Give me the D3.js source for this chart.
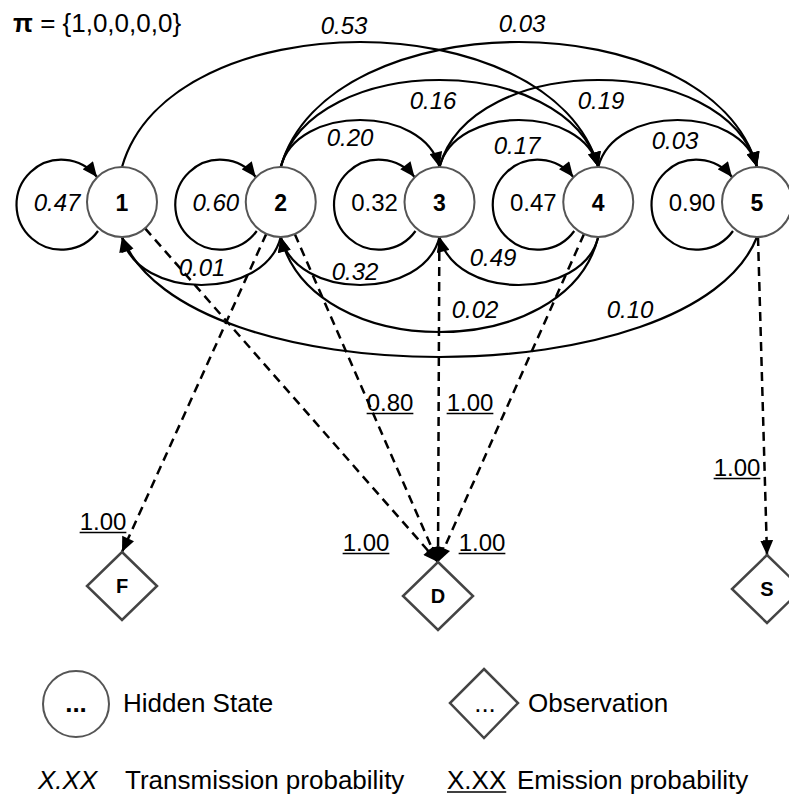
<!DOCTYPE html>
<html>
<head>
<meta charset="utf-8">
<title>HMM state diagram</title>
<script src="https://cdn.jsdelivr.net/npm/d3@7"></script>
<style>
  body { margin: 0; background: #fff; }
  svg { display: block; font-family: Arial, "Liberation Sans", sans-serif; }
  .lbl { font-size: 24px; fill: #000; }
  .it { font-style: italic; }
  .node { fill: #fff; stroke: #555; stroke-width: 2; }
  .obs { fill: #fff; stroke: #444; stroke-width: 2.5; }
  .arc { fill: none; stroke: #000; stroke-width: 2.2; }
  .emit { fill: none; stroke: #000; stroke-width: 2.5; stroke-dasharray: 9 6; }
  .legend { font-size: 26px; }
</style>
</head>
<body>
<script>
// data
var states = ['1', '2', '3', '4', '5'];
var initProb = [1, 0, 0, 0, 0];
var selfProb = ['0.47', '0.60', '0.32', '0.47', '0.90'];
var selfItalic = [true, true, false, false, false];
var transitions = [
  ['1', '4', '0.53'], ['2', '5', '0.03'], ['2', '4', '0.16'], ['3', '5', '0.19'],
  ['2', '3', '0.20'], ['3', '4', '0.17'], ['4', '5', '0.03'],
  ['2', '1', '0.01'], ['3', '2', '0.32'], ['4', '3', '0.49'], ['4', '2', '0.02'], ['5', '1', '0.10']
];
var observations = ['F', 'D', 'S'];
var emissions = [
  ['1', 'D', '1.00'], ['2', 'F', '1.00'], ['2', 'D', '0.80'],
  ['3', 'D', '1.00'], ['4', 'D', '1.00'], ['5', 'S', '1.00']
];

// layout
var width = 789, height = 796;
var R = 35, cy = 202;
var upPeak = {1: 120, 2: 80, 3: 42};
var lowTrough = {1: 285, 2: 332, 4: 357};
var transLabelPos = [[344, 25], [522, 23], [433, 100], [601, 100], [350, 137], [517, 145], [675, 140],
                     [202, 267], [355, 271], [493, 257], [475, 309], [630, 309]];
var obsPos = {F: [122, 586], D: [438, 596], S: [767, 589]};
var emitLabelPos = [[366, 542], [103, 521], [390, 402], [470, 402], [482, 542], [737, 467]];

var x = d3.scalePoint().domain(states).range([122, 757]);

var svg = d3.select('body').append('svg')
  .attr('width', width)
  .attr('height', height);

var defs = svg.append('defs');
defs.append('marker')
  .attr('id', 'arrow')
  .attr('viewBox', '0 0 16 14')
  .attr('refX', 16).attr('refY', 7)
  .attr('markerWidth', 16).attr('markerHeight', 13)
  .attr('markerUnits', 'userSpaceOnUse')
  .attr('orient', 'auto')
  .append('path')
  .attr('d', 'M0,0 L16,7 L0,14 Z')
  .attr('fill', '#000');

function curve(x1, x2, y0, yp) {
  var k = (yp - y0) / 0.75, f = 0.1 * (x2 - x1);
  return 'M' + x1 + ',' + y0 + ' C' + (x1 + f) + ',' + (y0 + k) + ' ' + (x2 - f) + ',' + (y0 + k) + ' ' + x2 + ',' + y0;
}

// transitions between states
svg.selectAll('path.trans')
  .data(transitions)
  .enter().append('path')
  .attr('class', 'arc trans')
  .attr('marker-end', 'url(#arrow)')
  .attr('d', function(d) {
    var a = x(d[0]), b = x(d[1]);
    var span = Math.abs(states.indexOf(d[1]) - states.indexOf(d[0]));
    if (b > a) return curve(a, b, cy - R, upPeak[span]);
    return curve(a, b, cy + R, lowTrough[span]);
  });

// self loops
svg.selectAll('path.loop')
  .data(states)
  .enter().append('path')
  .attr('class', 'arc loop')
  .attr('marker-end', 'url(#arrow)')
  .attr('d', function(d) {
    var cx = x(d);
    return 'M' + (cx - 24) + ',' + (cy + 29) + ' A45,45 0 1 1 ' + (cx - 25) + ',' + (cy - 25);
  });

// emissions
svg.selectAll('line.emit')
  .data(emissions)
  .enter().append('line')
  .attr('class', 'emit')
  .attr('marker-end', 'url(#arrow)')
  .each(function(d) {
    var sx = x(d[0]), p = obsPos[d[1]];
    var tx = p[0], ty = p[1] - 34;
    var dx = tx - sx, dy = ty - cy, l = Math.sqrt(dx * dx + dy * dy);
    d3.select(this)
      .attr('x1', sx + R * dx / l).attr('y1', cy + R * dy / l)
      .attr('x2', tx).attr('y2', ty);
  });

// state nodes
var nodes = svg.selectAll('g.state')
  .data(states)
  .enter().append('g')
  .attr('class', 'state')
  .attr('transform', function(d) { return 'translate(' + x(d) + ',' + cy + ')'; });
nodes.append('circle').attr('class', 'node').attr('r', R);
nodes.append('text')
  .attr('text-anchor', 'middle')
  .attr('y', 8.5)
  .attr('font-size', 23)
  .attr('font-weight', 'bold')
  .text(function(d) { return d; });

// self-loop labels
svg.selectAll('text.self')
  .data(states)
  .enter().append('text')
  .attr('class', function(d, i) { return 'lbl self' + (selfItalic[i] ? ' it' : ''); })
  .attr('text-anchor', 'middle')
  .attr('x', function(d) { return x(d) - 65; })
  .attr('y', cy + 9)
  .text(function(d, i) { return selfProb[i]; });

// transition labels
svg.selectAll('text.tl')
  .data(transitions)
  .enter().append('text')
  .attr('class', 'lbl it tl')
  .attr('text-anchor', 'middle')
  .attr('x', function(d, i) { return transLabelPos[i][0]; })
  .attr('y', function(d, i) { return transLabelPos[i][1] + 8.5; })
  .text(function(d) { return d[2]; });

// observation nodes
var obs = svg.selectAll('g.ob')
  .data(observations)
  .enter().append('g')
  .attr('class', 'ob')
  .attr('transform', function(d) { return 'translate(' + obsPos[d][0] + ',' + obsPos[d][1] + ')'; });
obs.append('path').attr('class', 'obs').attr('d', 'M0,-34 L35,0 L0,34 L-35,0 Z');
obs.append('text')
  .attr('text-anchor', 'middle')
  .attr('y', 7)
  .attr('font-size', 20)
  .attr('font-weight', 'bold')
  .text(function(d) { return d; });

function underline(sel) {
  sel.each(function() {
    var t = d3.select(this), w = this.getComputedTextLength();
    var tx = +t.attr('x'), ty = +t.attr('y');
    var anchor = t.attr('text-anchor');
    var x0 = anchor === 'middle' ? tx - w / 2 : tx;
    svg.append('line')
      .attr('x1', x0).attr('x2', x0 + w)
      .attr('y1', ty + 3).attr('y2', ty + 3)
      .attr('stroke', '#000').attr('stroke-width', 1.5);
  });
}

// emission labels
svg.selectAll('text.el')
  .data(emissions)
  .enter().append('text')
  .attr('class', 'lbl el')
  .attr('text-anchor', 'middle')
  .attr('x', function(d, i) { return emitLabelPos[i][0]; })
  .attr('y', function(d, i) { return emitLabelPos[i][1] + 8.5; })
  .text(function(d) { return d[2]; })
  .call(underline);

// initial distribution
var pi = svg.append('text').attr('class', 'lbl').attr('font-size', 26).style('font-size', '26px').attr('x', 13).attr('y', 32);
pi.append('tspan').attr('font-weight', 'bold').text('\u03c0');
pi.append('tspan').text(' = {' + initProb.join(',') + '}');

// legend
var lg = svg.append('g').attr('class', 'legend');
lg.append('circle').attr('class', 'node').attr('cx', 76).attr('cy', 704).attr('r', 33);
lg.append('text').attr('x', 76).attr('y', 712).attr('text-anchor', 'middle').attr('font-weight', 'bold').text('...');
lg.append('text').attr('x', 123).attr('y', 712).text('Hidden State');
lg.append('path').attr('class', 'obs').attr('d', 'M484,669 L518,703 L484,738 L450,703 Z');
lg.append('text').attr('x', 485).attr('y', 712).attr('text-anchor', 'middle').text('...');
lg.append('text').attr('x', 528).attr('y', 712).text('Observation');
lg.append('text').attr('x', 38).attr('y', 789).attr('font-style', 'italic').text('X.XX');
lg.append('text').attr('x', 125).attr('y', 789).text('Transmission probability');
lg.append('text').attr('x', 447).attr('y', 789).text('X.XX').call(underline);
lg.append('text').attr('x', 517).attr('y', 789).text('Emission probability');
</script>
</body>
</html>
